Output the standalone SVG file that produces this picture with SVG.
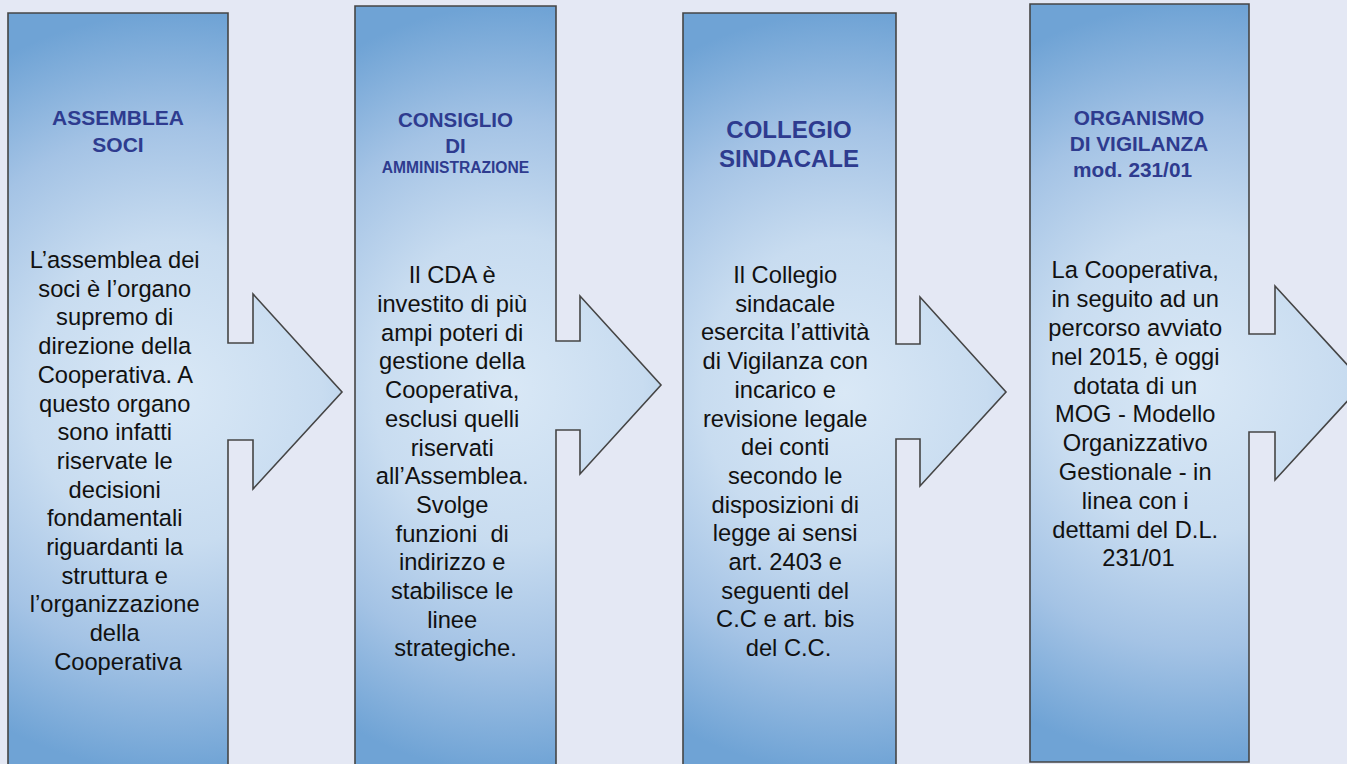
<svg xmlns="http://www.w3.org/2000/svg" width="1347" height="764" viewBox="0 0 1347 764">
<defs>
<radialGradient id="g" cx="0.5" cy="0.5" r="0.5" gradientTransform="translate(0.5 0.5) scale(2.2 1) translate(-0.5 -0.5)">
<stop offset="0" stop-color="#d9e8f6"/>
<stop offset="0.4" stop-color="#c8dcf0"/>
<stop offset="0.7" stop-color="#a4c3e5"/>
<stop offset="1" stop-color="#6fa3d5"/>
</radialGradient>
<style>
.shape{fill:url(#g);stroke:#454545;stroke-width:1.6;stroke-linejoin:miter}
.title{font-family:"Liberation Sans",Arial,sans-serif;font-weight:bold;fill:#2e3b8f;text-anchor:middle}
.body{font-family:"Liberation Sans",Arial,sans-serif;font-size:23.7px;fill:#111;text-anchor:middle}
</style>
</defs>
<rect x="0" y="0" width="1347" height="764" fill="#e4e8f4"/>
<g id="connectors"/>
<g id="node-assemblea">
<path class="shape" d="M8,13 H228 V343 H253 V294 L342,392 L253,489 V440 H228 V772 H8 Z"/>
<text class="title" font-size="21" x="118" y="125">ASSEMBLEA</text>
<text class="title" font-size="21" x="118" y="152">SOCI</text>
<text class="body" x="118" y="268">
<tspan x="118" dy="0">L’assemblea dei</tspan>
<tspan x="118" dy="28.7">soci è l’organo</tspan>
<tspan x="118" dy="28.7">supremo di</tspan>
<tspan x="118" dy="28.7">direzione della</tspan>
<tspan x="118" dy="28.7">Cooperativa. A</tspan>
<tspan x="118" dy="28.7">questo organo</tspan>
<tspan x="118" dy="28.7">sono infatti</tspan>
<tspan x="118" dy="28.7">riservate le</tspan>
<tspan x="118" dy="28.7">decisioni</tspan>
<tspan x="118" dy="28.7">fondamentali</tspan>
<tspan x="118" dy="28.7">riguardanti la</tspan>
<tspan x="118" dy="28.7">struttura e</tspan>
<tspan x="118" dy="28.7">l’organizzazione</tspan>
<tspan x="118" dy="28.7">della</tspan>
<tspan x="118" dy="28.7">Cooperativa</tspan>
</text>
</g>
<g id="node-cda">
<path class="shape" d="M355,6 H556 V341 H580 V296 L661,385 L580,474 V430 H556 V772 H355 Z"/>
<text class="title" font-size="20.5" x="455.5" y="127">CONSIGLIO</text>
<text class="title" font-size="20.5" x="455.5" y="153">DI</text>
<text class="title" font-size="15.6" x="455.5" y="173">AMMINISTRAZIONE</text>
<text class="body" x="455.5" y="283.3">
<tspan x="455.5" dy="0">Il CDA è</tspan>
<tspan x="455.5" dy="28.7">investito di più</tspan>
<tspan x="455.5" dy="28.7">ampi poteri di</tspan>
<tspan x="455.5" dy="28.7">gestione della</tspan>
<tspan x="455.5" dy="28.7">Cooperativa,</tspan>
<tspan x="455.5" dy="28.7">esclusi quelli</tspan>
<tspan x="455.5" dy="28.7">riservati</tspan>
<tspan x="455.5" dy="28.7">all’Assemblea.</tspan>
<tspan x="455.5" dy="28.7">Svolge</tspan>
<tspan x="455.5" dy="28.7" xml:space="preserve">funzioni  di</tspan>
<tspan x="455.5" dy="28.7">indirizzo e</tspan>
<tspan x="455.5" dy="28.7">stabilisce le</tspan>
<tspan x="455.5" dy="28.7">linee</tspan>
<tspan x="455.5" dy="28.7">strategiche.</tspan>
</text>
</g>
<g id="node-collegio">
<path class="shape" d="M683,13 H896 V344 H920 V297 L1006,392 L920,486 V439 H896 V772 H683 Z"/>
<text class="title" font-size="24" x="789" y="138">COLLEGIO</text>
<text class="title" font-size="24" x="789" y="167">SINDACALE</text>
<text class="body" x="788.5" y="283">
<tspan x="788.5" dy="0">Il Collegio</tspan>
<tspan x="788.5" dy="28.7">sindacale</tspan>
<tspan x="788.5" dy="28.7">esercita l’attività</tspan>
<tspan x="788.5" dy="28.7">di Vigilanza con</tspan>
<tspan x="788.5" dy="28.7">incarico e</tspan>
<tspan x="788.5" dy="28.7">revisione legale</tspan>
<tspan x="788.5" dy="28.7">dei conti</tspan>
<tspan x="788.5" dy="28.7">secondo le</tspan>
<tspan x="788.5" dy="28.7">disposizioni di</tspan>
<tspan x="788.5" dy="28.7">legge ai sensi</tspan>
<tspan x="788.5" dy="28.7">art. 2403 e</tspan>
<tspan x="788.5" dy="28.7">seguenti del</tspan>
<tspan x="788.5" dy="28.7">C.C e art. bis</tspan>
<tspan x="788.5" dy="28.7">del C.C.</tspan>
</text>
</g>
<g id="node-odv">
<path class="shape" d="M1030,4 H1249 V334 H1275 V286 L1364,383 L1275,480 V432 H1249 V762 H1030 Z"/>
<text class="title" font-size="20.8" x="1139" y="125">ORGANISMO</text>
<text class="title" font-size="20.8" x="1139" y="151">DI VIGILANZA</text>
<text class="title" font-size="20.8" x="1132.5" y="177">mod. 231/01</text>
<text class="body" x="1138.5" y="278.3">
<tspan x="1138.5" dy="0">La Cooperativa,</tspan>
<tspan x="1138.5" dy="28.8">in seguito ad un</tspan>
<tspan x="1138.5" dy="28.8">percorso avviato</tspan>
<tspan x="1138.5" dy="28.8">nel 2015, è oggi</tspan>
<tspan x="1138.5" dy="28.8">dotata di un</tspan>
<tspan x="1138.5" dy="28.8">MOG - Modello</tspan>
<tspan x="1138.5" dy="28.8">Organizzativo</tspan>
<tspan x="1138.5" dy="28.8">Gestionale - in</tspan>
<tspan x="1138.5" dy="28.8">linea con i</tspan>
<tspan x="1138.5" dy="28.8">dettami del D.L.</tspan>
<tspan x="1138.5" dy="28.8">231/01</tspan>
</text>
</g>
</svg>
